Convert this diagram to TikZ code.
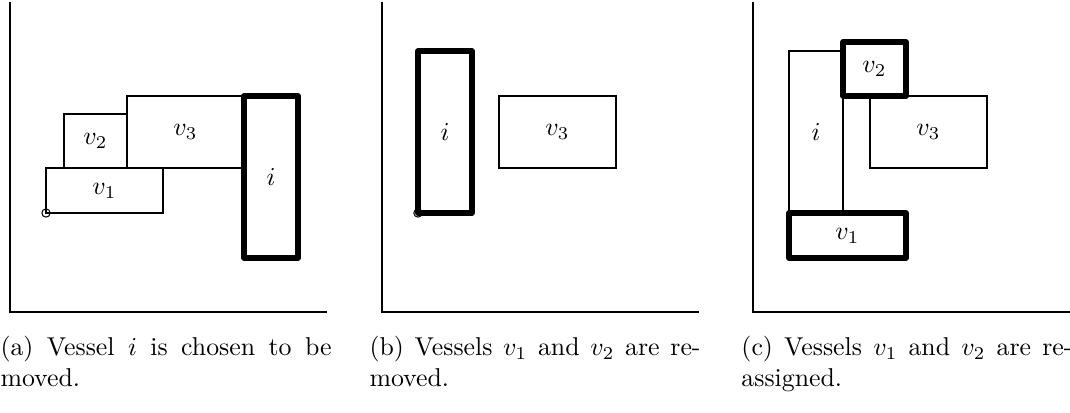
\documentclass[tikz,border=0pt]{standalone}
\usepackage{amsmath}
\usepackage{tikz}

\newcommand{\gridu}{3.488pt}

\begin{document}
\begin{tikzpicture}[x=\gridu, y=\gridu,
	vessel/.style={draw, line width=0.8pt, inner sep=0pt, outer sep=0pt, anchor=south west, font=\normalsize},
	picked/.style={vessel, line width=2pt, line join=round},
	corner/.style={draw, circle, line width=0.4pt, minimum size=3.2pt, inner sep=0pt},
	axis/.style={line width=0.8pt},
	caption/.style={text width=128.3pt, align=justify, inner sep=0pt, anchor=base west}]
	\useasboundingbox (0,0) rectangle (118.89,45.78);
	\begin{scope}[shift={(1.11,11.11)}]
		\coordinate (a-o) at (0,0);
		\coordinate (a-y) at (0,34.5);
		\coordinate (a-x) at (35.2,0);
		\draw[axis] (a-y) -- (a-o) -- (a-x);
		\node[vessel, minimum width=13*\gridu, minimum height=5*\gridu] (a-v1) at (4,11) {$v_1$};
		\node[vessel, minimum width=7*\gridu, minimum height=6*\gridu] (a-v2) at (6,16) {$v_2$};
		\node[vessel, minimum width=13*\gridu, minimum height=8*\gridu] (a-v3) at (13,16) {$v_3$};
		\node[picked, minimum width=6*\gridu, minimum height=18*\gridu] (a-i) at (26,6) {$i$};
		\node[corner] (a-c) at (a-v1.south west) {};
	\end{scope}
	\begin{scope}[shift={(42.44,11.11)}]
		\coordinate (b-o) at (0,0);
		\coordinate (b-y) at (0,34.5);
		\coordinate (b-x) at (35.2,0);
		\draw[axis] (b-y) -- (b-o) -- (b-x);
		\node[vessel, minimum width=13*\gridu, minimum height=8*\gridu] (b-v3) at (13,16) {$v_3$};
		\node[picked, minimum width=6*\gridu, minimum height=18*\gridu] (b-i) at (4,11) {$i$};
		\node[corner] (b-c) at (b-i.south west) {};
	\end{scope}
	\begin{scope}[shift={(83.67,11.11)}]
		\coordinate (c-o) at (0,0);
		\coordinate (c-y) at (0,34.5);
		\coordinate (c-x) at (35.2,0);
		\draw[axis] (c-y) -- (c-o) -- (c-x);
		\node[vessel, minimum width=6*\gridu, minimum height=18*\gridu] (c-i) at (4,11) {$i$};
		\node[vessel, minimum width=13*\gridu, minimum height=8*\gridu] (c-v3) at (13,16) {$v_3$};
		\node[picked, minimum width=7*\gridu, minimum height=6*\gridu] (c-v2) at (10,24) {$v_2$};
		\node[picked, minimum width=13*\gridu, minimum height=5*\gridu] (c-v1) at (4,6) {$v_1$};
	\end{scope}
	% captions
	\node[caption] (cap-a) at (0,6.3) {(a) Vessel $i$ is chosen to be moved.};
	\node[caption] (cap-b) at (41,6.3) {(b) Vessels $v_1$ and $v_2$ are re\-moved.};
	\node[caption] (cap-c) at (82.33,6.3) {(c) Vessels $v_1$ and $v_2$ are re\-assigned.};
\end{tikzpicture}
\end{document}
